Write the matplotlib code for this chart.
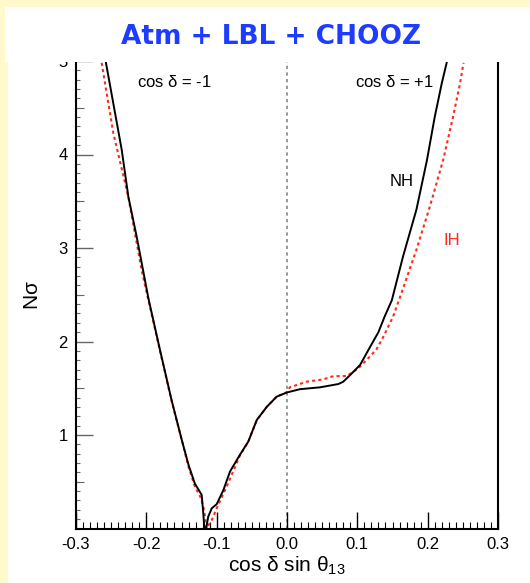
import numpy as np
import matplotlib.pyplot as plt
from matplotlib.patches import Rectangle
from matplotlib.ticker import MultipleLocator, NullFormatter

plt.rcParams['font.family'] = ['Liberation Sans', 'DejaVu Sans']

# NH curve (solid black)
nh_x = [-0.2574, -0.235, -0.2256, -0.2137, -0.197, -0.1806, -0.164, -0.1497,
        -0.140, -0.131, -0.1213, -0.119, -0.1175, -0.1150, -0.112, -0.107,
        -0.100, -0.0905, -0.081, -0.0668, -0.055, -0.043, -0.0289, -0.0147,
        0.0, 0.0185, 0.047, 0.073, 0.080, 0.0896, 0.104, 0.118, 0.130,
        0.139, 0.149, 0.165, 0.184, 0.199, 0.210, 0.220, 0.227]
nh_y = [4.98, 4.05, 3.55, 3.12, 2.46, 1.91, 1.37, 0.95,
        0.68, 0.48, 0.36, 0.16, 0.0, 0.0, 0.126, 0.216,
        0.26, 0.41, 0.61, 0.79, 0.93, 1.16, 1.30, 1.41,
        1.455, 1.49, 1.51, 1.545, 1.57, 1.64, 1.75, 1.94, 2.10,
        2.27, 2.44, 2.91, 3.41, 3.94, 4.40, 4.76, 4.98]

# IH curve (dotted red)
ih_x = [-0.2635, -0.247, -0.2257, -0.2066, -0.197, -0.1806, -0.164, -0.1497,
        -0.140, -0.131, -0.122, -0.118, -0.1145, -0.107, -0.100, -0.0857,
        -0.067, -0.055, -0.043, -0.0289, -0.0147, 0.0, 0.004, 0.028, 0.0517,
        0.066, 0.085, 0.101, 0.118, 0.1275, 0.137, 0.151, 0.161, 0.184,
        0.203, 0.222, 0.236, 0.246, 0.251]
ih_y = [4.98, 4.23, 3.55, 2.76, 2.44, 1.90, 1.36, 0.95,
        0.66, 0.45, 0.32, 0.2, 0.0, 0.09, 0.216, 0.45,
        0.78, 0.93, 1.16, 1.30, 1.41, 1.46, 1.51, 1.57, 1.595,
        1.63, 1.63, 1.71, 1.84, 1.92, 2.05, 2.27, 2.48, 2.98,
        3.44, 3.94, 4.40, 4.76, 4.98]

x_ticks = [-0.3, -0.2, -0.1, 0.0, 0.1, 0.2, 0.3]
y_ticks = [1, 2, 3, 4, 5]

fig = plt.figure(figsize=(5.3, 5.83), dpi=100)
fig.patch.set_facecolor('#FFF9CC')

# white panels behind the plot and for the title
fig.patches.append(Rectangle((8 / 530, 0), 1, 521 / 583, transform=fig.transFigure,
                             facecolor='white', edgecolor='none', zorder=-1))
fig.patches.append(Rectangle((5 / 530, 521 / 583), 1, 55 / 583, transform=fig.transFigure,
                             facecolor='white', edgecolor='none', zorder=5))
fig.text(0.512, 0.936, 'Atm + LBL + CHOOZ', color='#1E3CFF', fontsize=19,
         fontweight='bold', ha='center', va='center', family='DejaVu Sans',
         zorder=6)

ax = fig.add_axes([76 / 530, 54.5 / 583, 422 / 530, 467.5 / 583])
ax.plot(nh_x, nh_y, color='black', lw=1.4, zorder=3)
ax.plot(ih_x, ih_y, color='#FF2A1A', lw=1.5, ls=(0, (1.5, 1.5)), zorder=2)
ax.axvline(0.0, color='#888888', lw=1.2, ls=(0, (2, 2)), zorder=1)

ax.set_xlim(-0.3, 0.3)
ax.set_ylim(0, 5)
ax.set_xticks(x_ticks)
ax.set_xticklabels(['-0.3', '-0.2', '-0.1', '0.0', '0.1', '0.2', '0.3'])
ax.set_yticks(y_ticks)
ax.xaxis.set_minor_locator(MultipleLocator(0.01))
ax.yaxis.set_minor_locator(MultipleLocator(0.1))
ax.tick_params(axis='x', which='major', direction='in', length=12, width=1,
               labelsize=12, pad=6, top=False)
ax.tick_params(axis='x', which='minor', direction='in', length=5, width=0.8, top=False)
ax.tick_params(axis='y', which='major', direction='in', length=12, width=1,
               color='#666666', labelsize=12, pad=6, right=False)
ax.tick_params(axis='y', which='minor', direction='in', length=3, width=0.8,
               color='#666666', right=False)

# half-unit ticks on the y axis
sec = ax.secondary_yaxis('left')
sec.set_yticks([0.5, 1.5, 2.5, 3.5, 4.5])
sec.yaxis.set_major_formatter(NullFormatter())
sec.tick_params(direction='in', length=6, width=0.8, color='#666666')
sec.spines['left'].set_visible(False)

ax.spines['top'].set_visible(False)
for s in ['left', 'bottom', 'right']:
    ax.spines[s].set_linewidth(1.5)

ax.set_xlabel(r'cos $\mathregular{\delta}$ sin $\mathregular{\theta_{13}}$', fontsize=15, labelpad=2)
ax.set_ylabel(r'N$\mathregular{\sigma}$', fontsize=15, labelpad=12)

ax.text(-0.16, 4.78, r'cos $\mathregular{\delta}$ = -1', fontsize=12, ha='center', va='center')
ax.text(0.208, 4.78, r'cos $\mathregular{\delta}$ = +1', fontsize=12, ha='right', va='center')
ax.text(0.163, 3.71, 'NH', fontsize=12, ha='center', va='center')
ax.text(0.234, 3.08, 'IH', fontsize=12, color='#FF2A1A', ha='center', va='center')

fig.savefig('out.png', dpi=100, facecolor=fig.get_facecolor())
